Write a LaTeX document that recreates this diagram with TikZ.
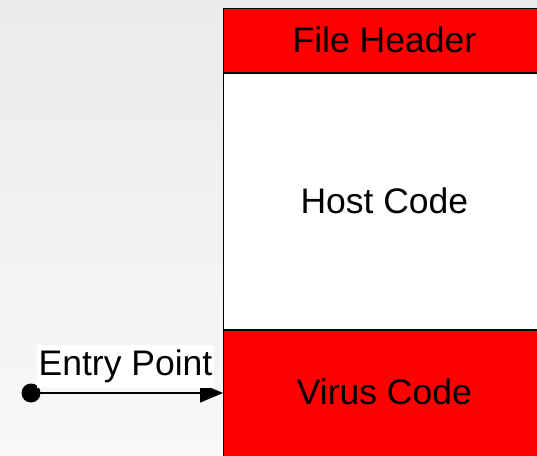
\documentclass[tikz,border=0pt]{standalone}
\usepackage{fontspec}
\setmainfont{Liberation Sans}
\usetikzlibrary{arrows.meta}
\definecolor{bgtop}{HTML}{EBEBEB}
\definecolor{bgbot}{HTML}{F8F8F8}
\begin{document}
\begin{tikzpicture}[x=1pt,y=1pt,
  seg/.style={draw=black, line width=0.8pt, minimum width=322pt, inner sep=0pt,
              anchor=north west, font=\fontsize{35.5}{42}\selectfont},
  lbl/.style={fill=white, inner xsep=1.5pt, inner ysep=4.75pt, font=\fontsize{35.5}{42}\selectfont}]
\useasboundingbox (0,0) rectangle (537,455);
\shade[top color=bgtop, bottom color=bgbot] (0,0) rectangle (537,455);
\begin{scope}
\clip (0,0) rectangle (537,455);
\node[seg, fill=red, minimum height=64pt] (hdr) at (223,446.5) {\raisebox{3pt}{File Header}};
\node[seg, fill=white, minimum height=256pt] (host) at (hdr.south west) {\raisebox{3pt}{Host Code}};
\node[seg, fill=red, minimum height=136pt] (virus) at (host.south west) {\raisebox{14pt}{Virus Code}};
\end{scope}
\node[circle, fill=black, inner sep=0pt, minimum size=19pt] (dot) at (31,62) {};
\coordinate (tip) at (223,62);
\draw[line width=1.5pt, -{Triangle[length=23pt,width=19pt]}] (dot.center) -- (tip);
\node[lbl] (ep) at (125.5,88.5) {Entry Point};
\end{tikzpicture}
\end{document}
